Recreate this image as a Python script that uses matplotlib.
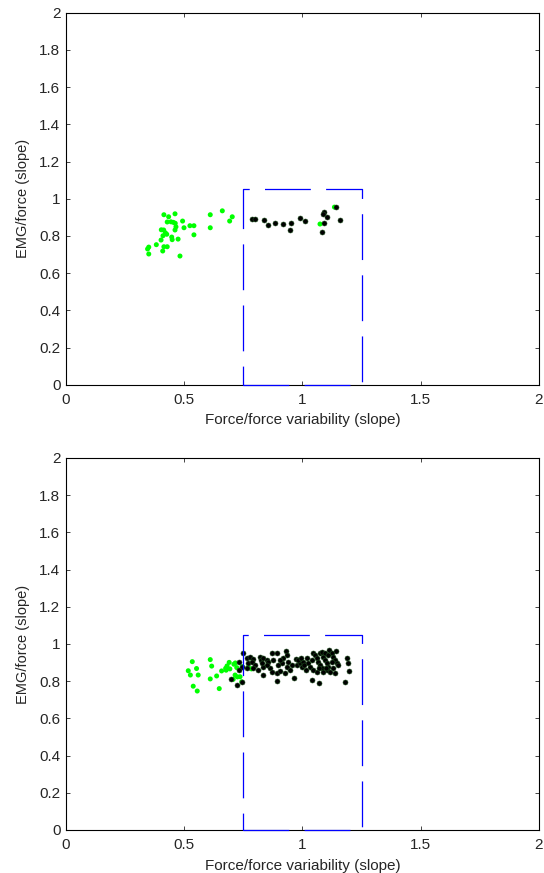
import matplotlib
matplotlib.use("Agg")
import matplotlib.pyplot as plt

plt.rcParams["font.family"] = ["Liberation Sans", "DejaVu Sans"]
plt.rcParams["lines.scale_dashes"] = False

# criterion box (force/force variability 0.75-1.25, EMG/force up to 1.05)
box_x = [0.75, 1.25, 1.25, 0.75, 0.75]
box_y = [0.0, 0.0, 1.05, 1.05, 0.0]

# upper panel
top_green_x = [0.414, 0.434, 0.461, 0.428, 0.444, 0.454, 0.462, 0.465, 0.461, 0.493,
               0.499, 0.524, 0.541, 0.541, 0.610, 0.610, 0.661, 0.703, 0.692, 0.403,
               0.413, 0.420, 0.426, 0.410, 0.447, 0.449, 0.474, 0.402, 0.382, 0.414,
               0.428, 0.350, 0.345, 0.409, 0.350, 0.482, 1.074, 1.135]
top_green_y = [0.914, 0.903, 0.919, 0.875, 0.876, 0.873, 0.868, 0.849, 0.832, 0.880,
               0.844, 0.855, 0.855, 0.806, 0.914, 0.844, 0.935, 0.903, 0.880, 0.833,
               0.832, 0.817, 0.809, 0.801, 0.794, 0.780, 0.783, 0.778, 0.753, 0.742,
               0.742, 0.740, 0.730, 0.719, 0.703, 0.692, 0.864, 0.955]
top_black_x = [0.785, 0.799, 0.839, 0.853, 0.882, 0.916, 0.950, 0.947, 0.989, 1.011,
               1.091, 1.088, 1.105, 1.091, 1.082, 1.142, 1.160]
top_black_y = [0.893, 0.893, 0.887, 0.860, 0.871, 0.864, 0.871, 0.833, 0.898, 0.882,
               0.930, 0.916, 0.902, 0.871, 0.823, 0.957, 0.887]

# lower panel
bot_green_x = [0.534, 0.610, 0.616, 0.517, 0.526, 0.552, 0.559, 0.538, 0.555, 0.610,
               0.637, 0.648, 0.658, 0.675, 0.681, 0.690, 0.677, 0.693, 0.710, 0.716,
               0.722, 0.715, 0.725, 0.707, 0.736, 0.743, 0.745, 0.771, 0.784]
bot_green_y = [0.905, 0.916, 0.881, 0.856, 0.833, 0.868, 0.833, 0.773, 0.747, 0.812,
               0.828, 0.760, 0.855, 0.869, 0.882, 0.901, 0.859, 0.866, 0.891, 0.898,
               0.873, 0.833, 0.823, 0.810, 0.824, 0.797, 0.878, 0.875, 0.866]
bot_black_x = [0.747, 0.733, 0.743, 0.733, 0.697, 0.724, 0.744, 0.764, 0.778, 0.792,
               0.771, 0.785, 0.799, 0.764, 0.792, 0.820, 0.823, 0.834, 0.849, 0.856,
               0.834, 0.813, 0.832, 0.870, 0.891, 0.877, 0.863, 0.870, 0.891, 0.891,
               0.905, 0.926, 0.930, 0.936, 0.919, 0.912, 0.940, 0.954, 0.933, 0.947,
               0.973, 0.975, 0.964, 0.989, 0.996, 1.003, 1.018, 1.025, 1.032, 1.039,
               1.043, 1.046, 1.040, 1.068, 1.053, 1.060, 1.067, 1.074, 1.081, 1.088,
               1.095, 1.102, 1.109, 1.102, 1.113, 1.123, 1.130, 1.137, 1.142, 1.145,
               1.116, 1.130, 1.151, 1.137, 1.074, 1.081, 1.095, 1.109, 1.123, 1.187,
               1.194, 1.198, 1.180, 1.060, 1.071, 1.088, 1.099, 1.015, 1.007, 0.982,
               0.992, 0.905, 0.898, 0.849, 0.828]
bot_black_y = [0.953, 0.905, 0.878, 0.860, 0.810, 0.780, 0.797, 0.923, 0.928, 0.918,
               0.896, 0.905, 0.887, 0.870, 0.870, 0.932, 0.914, 0.923, 0.914, 0.905,
               0.878, 0.860, 0.833, 0.950, 0.953, 0.914, 0.870, 0.851, 0.842, 0.801,
               0.857, 0.846, 0.964, 0.941, 0.923, 0.896, 0.905, 0.887, 0.878, 0.860,
               0.918, 0.887, 0.819, 0.896, 0.878, 0.905, 0.923, 0.896, 0.878, 0.914,
               0.953, 0.860, 0.806, 0.789, 0.941, 0.923, 0.905, 0.887, 0.870, 0.932,
               0.914, 0.896, 0.878, 0.860, 0.968, 0.950, 0.932, 0.914, 0.964, 0.896,
               0.851, 0.870, 0.887, 0.842, 0.950, 0.959, 0.950, 0.941, 0.905, 0.926,
               0.896, 0.855, 0.797, 0.851, 0.870, 0.851, 0.870, 0.860, 0.887, 0.914,
               0.923, 0.914, 0.887, 0.887, 0.896]

xticks = [0, 0.5, 1, 1.5, 2]
xticklabels = ["0", "0.5", "1", "1.5", "2"]
yticks = [0, 0.2, 0.4, 0.6, 0.8, 1, 1.2, 1.4, 1.6, 1.8, 2]
yticklabels = ["0", "0.2", "0.4", "0.6", "0.8", "1", "1.2", "1.4", "1.6", "1.8", "2"]

GREEN = "#00ff00"
BLUE = "#0000ff"
TXT = "#262626"

fig = plt.figure(figsize=(5.44, 8.73), dpi=100)
fig.patch.set_facecolor("white")

panels = [
    ([0.1213, 0.5593, 0.8695, 0.4261], top_green_x, top_green_y, top_black_x, top_black_y),
    ([0.1213, 0.0493, 0.8695, 0.4261], bot_green_x, bot_green_y, bot_black_x, bot_black_y),
]

for rect, gx, gy, kx, ky in panels:
    ax = fig.add_axes(rect)
    ax.scatter(gx, gy, s=13, color=GREEN, edgecolors="none", zorder=3)
    ax.scatter(kx, ky, s=13, facecolor="black", edgecolors="#1f4f1f",
               linewidths=0.4, zorder=4)
    ax.plot(box_x, box_y, color=BLUE, lw=0.9, linestyle=(0, (33, 11)),
            zorder=5, clip_on=False)
    ax.set_xlim(0, 2)
    ax.set_ylim(0, 2)
    ax.set_xticks(xticks, xticklabels)
    ax.set_yticks(yticks, yticklabels)
    ax.tick_params(direction="in", length=3, width=0.6, top=True, right=True,
                   labelsize=11, colors=TXT)
    ax.tick_params(axis="x", pad=6)
    ax.tick_params(axis="y", pad=4)
    for sp in ax.spines.values():
        sp.set_linewidth(0.8)
        sp.set_color("black")
    ax.set_xlabel("Force/force variability (slope)", fontsize=11, color=TXT,
                  labelpad=4.5)
    ax.set_ylabel("EMG/force (slope)", fontsize=10.5, color=TXT, labelpad=7)

fig.savefig("out.png", dpi=100, facecolor="white")
